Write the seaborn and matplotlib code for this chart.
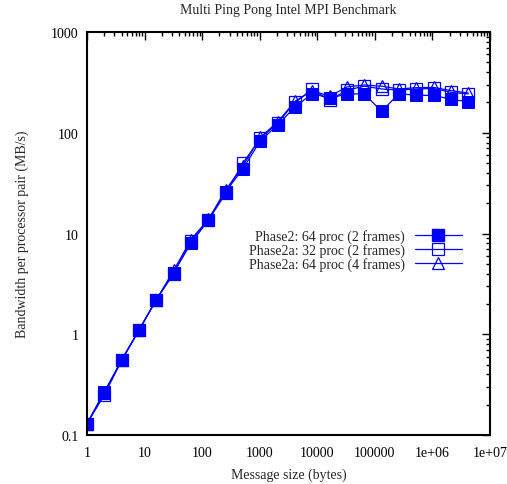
import matplotlib
matplotlib.use("Agg")
import matplotlib.pyplot as plt
import matplotlib.ticker as mticker
from matplotlib.lines import Line2D
import seaborn as sns
import pandas as pd
import numpy as np

sizes = [1, 2, 4, 8, 16, 32, 64, 128, 256, 512, 1024, 2048, 4096, 8192,
         16384, 32768, 65536, 131072, 262144, 524288, 1048576, 2097152, 4194304]

phase2_64_2 = [0.13, 0.27, 0.55, 1.1, 2.2, 4.1, 8.0, 13.5, 26, 44, 83, 120, 180,
               245, 220, 243, 243, 163, 245, 235, 235, 215, 203]
phase2a_32_2 = [0.13, 0.25, 0.55, 1.1, 2.2, 4.0, 8.5, 13.5, 25, 50, 88, 125, 200,
                270, 210, 265, 290, 272, 265, 272, 275, 252, 243]
phase2a_64_4 = [0.13, 0.26, 0.56, 1.1, 2.2, 4.3, 8.7, 13.8, 27, 47, 90, 128, 205,
                262, 230, 285, 298, 290, 272, 280, 282, 262, 248]

labels = ["Phase2: 64 proc (2 frames)",
          "Phase2a: 32 proc (2 frames)",
          "Phase2a: 64 proc (4 frames)"]

sns.set_style("white")
plt.rcParams["font.family"] = ["Liberation Serif", "DejaVu Serif"]
plt.rcParams["font.size"] = 10

fig = plt.figure(figsize=(5.07, 4.85), dpi=100)
ax = fig.add_axes([87/507, 49/485, 403/507, 403/485])

blue = "#0000ff"
series = [phase2_64_2, phase2a_32_2, phase2a_64_4]
styles = [dict(marker="s", markerfacecolor=blue, markeredgecolor=blue, markersize=8),
          dict(marker="s", markerfacecolor="none", markeredgecolor=blue, markersize=8, markeredgewidth=0.9),
          dict(marker="^", markerfacecolor="none", markeredgecolor=blue, markersize=8, markeredgewidth=0.9)]

handles = []
for vals, lab, st in zip(series, labels, styles):
    df = pd.DataFrame({"size": sizes, "bw": vals})
    sns.lineplot(data=df, x="size", y="bw", ax=ax, color=blue, linewidth=0.9,
                 legend=False, **st)
    handles.append(Line2D([], [], color=blue, linewidth=0.9, label=lab, **st))

ax.set_xscale("log")
ax.set_yscale("log")
ax.set_xlim(1, 1e7)
ax.set_ylim(0.1, 1000)

xt = [1, 10, 100, 1000, 10000, 100000, 1e6, 1e7]
xtl = ["1", "10", "100", "1000", "10000", "100000", "1e+06", "1e+07"]
ax.xaxis.set_major_locator(mticker.FixedLocator(xt))
ax.xaxis.set_major_formatter(mticker.FixedFormatter(xtl))
yt = [0.1, 1, 10, 100, 1000]
ytl = ["0.1", "1", "10", "100", "1000"]
ax.yaxis.set_major_locator(mticker.FixedLocator(yt))
ax.yaxis.set_major_formatter(mticker.FixedFormatter(ytl))
ax.xaxis.set_minor_locator(mticker.LogLocator(base=10, subs=np.arange(2, 10), numticks=20))
ax.yaxis.set_minor_locator(mticker.LogLocator(base=10, subs=np.arange(2, 10), numticks=20))
ax.xaxis.set_minor_formatter(mticker.NullFormatter())
ax.yaxis.set_minor_formatter(mticker.NullFormatter())

ax.tick_params(which="both", direction="in", top=True, right=True, width=1, colors="black")
ax.tick_params(which="major", length=6, labelsize=10)
ax.tick_params(axis="x", which="major", pad=8)
ax.tick_params(axis="y", which="major", pad=6)
ax.tick_params(which="minor", length=3)
for sp in ax.spines.values():
    sp.set_linewidth(1.5)
    sp.set_color("black")

ax.set_xlabel("Message size (bytes)", fontsize=10, labelpad=6)
ax.set_ylabel("Bandwidth per processor pair (MB/s)", fontsize=10, labelpad=16)
ax.set_title("Multi Ping Pong Intel MPI Benchmark", fontsize=10, pad=14)

leg = ax.legend(handles=handles, loc="upper right", bbox_to_anchor=(0.93, 0.51),
                frameon=False, markerfirst=False, handlelength=3.4, handletextpad=0.7,
                labelspacing=0.0, fontsize=10, borderaxespad=0, borderpad=0)

fig.savefig("out.png", dpi=100)
